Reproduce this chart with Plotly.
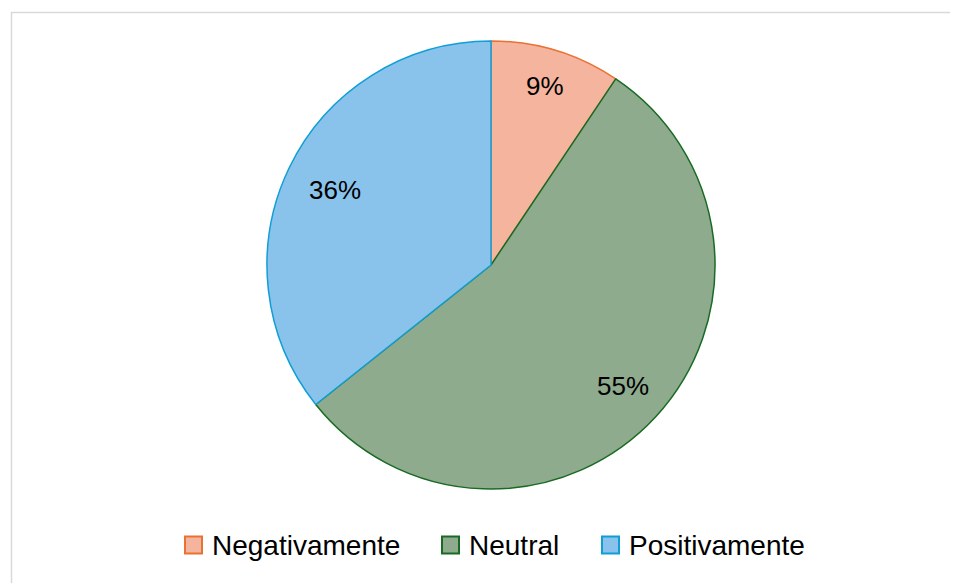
import math
import plotly.graph_objects as go

categories = ["Negativamente", "Neutral", "Positivamente"]
values = [9.4, 54.9, 35.7]
fill_colors = ["#F4B49E", "#8FAB8D", "#89C3EC"]
line_colors = ["#E97132", "#196B24", "#0F9ED5"]

W, H = 958, 583
OFF = 8  # page body margin
cx, cy, r = 491 - OFF, 265 - OFF, 224
label_r = [0.835, 0.80, 0.775]
legend_x = [184, 441, 601]   # swatch left edges (page px)
legend_y = 545               # legend centre line (page px)
sw = 19                      # swatch size

fig = go.Figure(go.Pie(
    labels=categories,
    values=values,
    sort=False,
    direction="clockwise",
    rotation=0,
    marker=dict(colors=fill_colors, line=dict(color=line_colors, width=1.5)),
    textinfo="none",
    domain=dict(x=[(cx - r) / W, (cx + r) / W], y=[1 - (cy + r) / H, 1 - (cy - r) / H]),
    hoverinfo="label+percent",
    showlegend=False,
))

total = sum(values)
annotations = []
shapes = [dict(type="rect", xref="paper", yref="paper",
               x0=(11.5 - OFF) / W, x1=1.02, y0=-0.02, y1=1 - (12.5 - OFF) / H,
               line=dict(color="#D9D9D9", width=1.5), fillcolor="rgba(0,0,0,0)", layer="below")]

cum = 0
for v, fr in zip(values, label_r):
    mid = (cum + v / 2) / total * 2 * math.pi
    cum += v
    px = cx + fr * r * math.sin(mid)
    py = cy - fr * r * math.cos(mid)
    annotations.append(dict(
        x=px / W, y=1 - py / H, xref="paper", yref="paper",
        text=f"{round(v / total * 100)}%", showarrow=False,
        font=dict(family="Liberation Sans, Arial, sans-serif", size=26, color="black"),
        xanchor="center", yanchor="middle",
    ))

# manual legend
ly = legend_y - OFF
for name, fc, lc, lx in zip(categories, fill_colors, line_colors, legend_x):
    x0 = lx - OFF
    shapes.append(dict(type="rect", xref="paper", yref="paper",
                       x0=(x0 + 1) / W, x1=(x0 + sw - 1) / W,
                       y0=1 - (ly + sw / 2 - 1) / H, y1=1 - (ly - sw / 2 + 1) / H,
                       line=dict(color=lc, width=2), fillcolor=fc))
    annotations.append(dict(
        x=(x0 + sw + 7) / W, y=1 - ly / H, xref="paper", yref="paper",
        text=name, showarrow=False, xanchor="left", yanchor="middle",
        font=dict(family="Liberation Sans, Arial, sans-serif", size=28, color="black"),
    ))

fig.update_layout(
    width=W, height=H,
    margin=dict(l=0, r=0, t=0, b=0),
    paper_bgcolor="white",
    plot_bgcolor="white",
    showlegend=False,
    annotations=annotations,
    shapes=shapes,
)

fig.write_html("out.html")
